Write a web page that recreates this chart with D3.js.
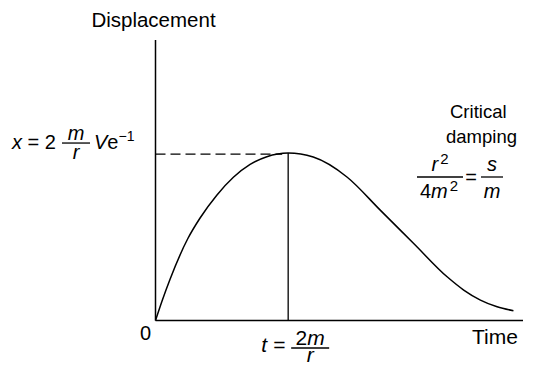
<!DOCTYPE html>
<html>
<head>
<meta charset="utf-8">
<script src="https://cdn.jsdelivr.net/npm/d3@7"></script>
<style>
  body { margin: 0; background: #fff; }
  text { font-family: "Liberation Sans", Arial, Helvetica, sans-serif; fill: #000; }
</style>
</head>
<body>
<svg id="chart" width="533" height="366"></svg>
<script>
// Critically damped displacement, time in units of 2m/r, displacement in units of its peak
const timeValues = [0, 0.05, 0.109, 0.243, 0.336, 0.462, 0.587, 0.713, 0.839, 1.0,
                    1.189, 1.443, 1.694, 1.946, 2.198, 2.323, 2.449, 2.575, 2.698];
const displacementValues = [0, 0.118, 0.245, 0.488, 0.612, 0.748, 0.855, 0.932, 0.978, 1.0,
                            0.976, 0.857, 0.659, 0.460, 0.261, 0.182, 0.122, 0.082, 0.058];
const peakTime = 1.0;
const peakDisplacement = 1.0;
const axisTitles = { y: "Displacement", x: "Time", origin: "0" };
const annotationLines = ["Critical", "damping"];

const svg = d3.select("#chart");
const x = d3.scaleLinear().domain([0, 2.77]).range([155.5, 523]);
const y = d3.scaleLinear().domain([0, 1.675]).range([320.5, 40]);

const points = timeValues.map((t, i) => [t, displacementValues[i]]);

// axes
const [x0, x1] = x.domain();
const [y0, y1] = y.domain();
svg.append("line").attr("x1", x(x0)).attr("x2", x(x0)).attr("y1", y(y0)).attr("y2", y(y1))
  .attr("stroke", "#000").attr("stroke-width", 1.5);
svg.append("line").attr("x1", x(x0)).attr("x2", x(x1)).attr("y1", y(y0)).attr("y2", y(y0))
  .attr("stroke", "#000").attr("stroke-width", 1.5);

// peak guides
svg.append("line").attr("x1", x(x0)).attr("x2", x(peakTime) - 6)
  .attr("y1", y(peakDisplacement) + 1).attr("y2", y(peakDisplacement) + 1)
  .attr("stroke", "#000").attr("stroke-width", 1.3).attr("stroke-dasharray", "10,5");
svg.append("line").attr("x1", x(peakTime)).attr("x2", x(peakTime))
  .attr("y1", y(peakDisplacement)).attr("y2", y(y0))
  .attr("stroke", "#000").attr("stroke-width", 1.3);

// displacement curve
const line = d3.line().x(d => x(d[0])).y(d => y(d[1])).curve(d3.curveMonotoneX);
svg.append("path").datum(points).attr("d", line)
  .attr("fill", "none").attr("stroke", "#000").attr("stroke-width", 1.5);

// helpers for math text
function txt(px, py, str, opts = {}) {
  const t = svg.append("text").attr("x", px).attr("y", py)
    .attr("font-size", opts.size || 20)
    .attr("text-anchor", opts.anchor || "start")
    .text(str);
  if (opts.italic) t.attr("font-style", "italic");
  return t;
}
function bar(xa, xb, yy) {
  svg.append("line").attr("x1", xa).attr("x2", xb).attr("y1", yy).attr("y2", yy)
    .attr("stroke", "#000").attr("stroke-width", 1.3);
}

// axis titles
txt(x(x0) - 2, 27, axisTitles.y, { anchor: "middle", size: 20.5 });
txt(472, 344, axisTitles.x, { size: 21 });
txt(140, 340, axisTitles.origin, { size: 20 });

// peak value: x = 2 (m/r) V e^-1
const py = y(peakDisplacement) - 4;
const lhs = txt(12, py, "", { size: 20 });
lhs.append("tspan").attr("font-style", "italic").text("x");
lhs.append("tspan").text(" = 2");
bar(62, 90, py - 6);
txt(76, py - 9, "m", { italic: true, anchor: "middle", size: 20 });
txt(76, py + 10, "r", { italic: true, anchor: "middle", size: 20 });
const ve = txt(94, py, "", { size: 20 });
ve.append("tspan").attr("font-style", "italic").text("V");
ve.append("tspan").text("e");
ve.append("tspan").attr("font-size", 14).attr("dy", -8).text("\u22121");

// peak time: t = 2m/r
const tx = x(peakTime);
txt(tx - 27, 352, "t", { italic: true, size: 21 });
txt(tx - 15, 352, "=", { size: 21 });
bar(tx + 3, tx + 41, 348);
const num = txt(tx + 22, 345, "", { anchor: "middle", size: 21 });
num.append("tspan").text("2");
num.append("tspan").attr("font-style", "italic").text("m");
txt(tx + 22, 362, "r", { italic: true, anchor: "middle", size: 21 });

// critical damping condition
txt(450, 118, annotationLines[0], { size: 18.5 });
txt(446, 143, annotationLines[1], { size: 18.5 });
bar(417, 463, 177);
const rn = txt(440, 171, "", { anchor: "middle", size: 20 });
rn.append("tspan").attr("font-style", "italic").text("r");
rn.append("tspan").attr("font-size", 15).attr("dx", 2).attr("dy", -7).text("2");
const rd = txt(439, 198, "", { anchor: "middle", size: 20 });
rd.append("tspan").text("4");
rd.append("tspan").attr("font-style", "italic").text("m");
rd.append("tspan").attr("font-size", 15).attr("dx", 2).attr("dy", -7).text("2");
txt(471, 184, "=", { anchor: "middle", size: 20 });
bar(481, 503, 177);
txt(492, 171, "s", { italic: true, anchor: "middle", size: 20 });
txt(492, 198, "m", { italic: true, anchor: "middle", size: 20 });
</script>
</body>
</html>
